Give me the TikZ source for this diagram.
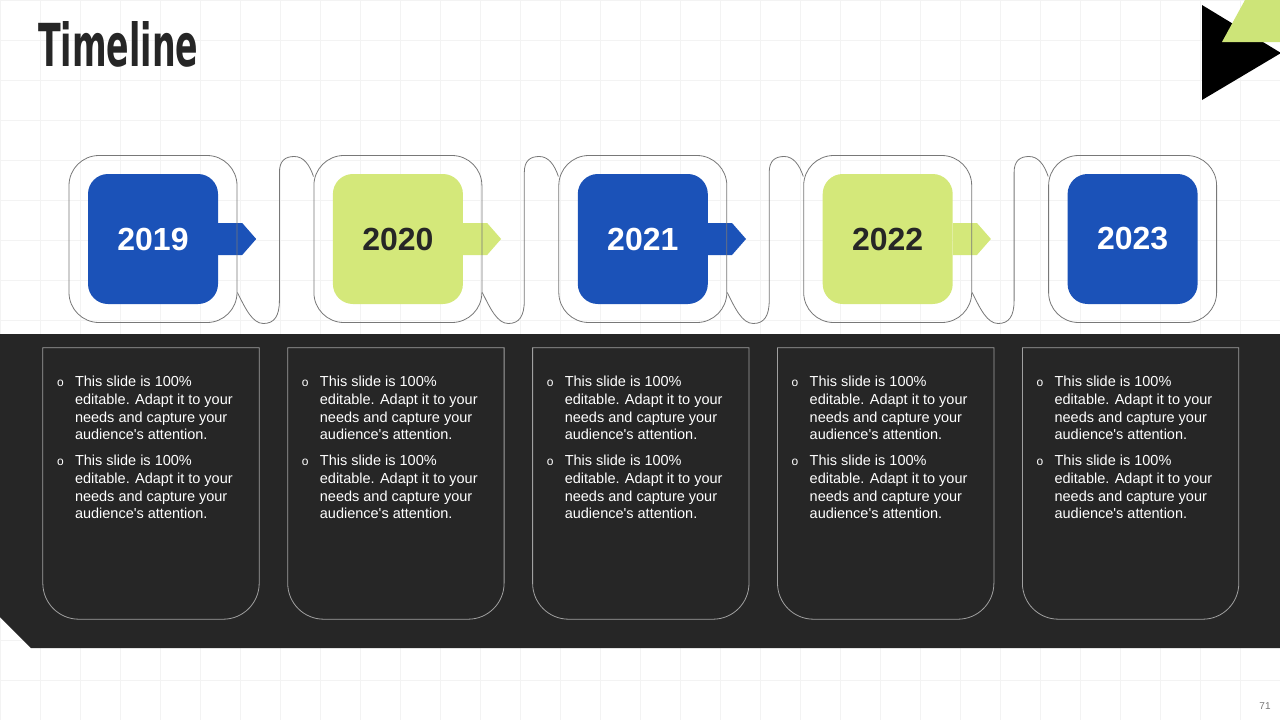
\documentclass[tikz,border=0pt]{standalone}
\usepackage{fontspec}
\setmainfont{Liberation Sans}
\newfontfamily\titlefont{DejaVu Sans Condensed Bold}
\usepackage{tikz}
\usetikzlibrary{positioning,calc}
\usepackage{xcolor}

\definecolor{yearblue}{RGB}{27,82,184}
\definecolor{yeargreen}{RGB}{212,232,122}
\definecolor{cornergreen}{RGB}{205,228,120}
\definecolor{slidedark}{RGB}{38,38,38}
\definecolor{gridgray}{RGB}{243,243,243}
\definecolor{framegray}{RGB}{120,120,120}
\definecolor{cardgray}{RGB}{160,160,160}

% wavy ribbon from one frame to the next
\newcommand{\ribbonlink}[2]{%
  \draw[ribbon] ([yshift=-53.5pt]#1.east)
    .. controls ([shift={(8,-69.5)}]#1.east) and ([shift={(15,-84.5)}]#1.east) .. ([shift={(26,-84.5)}]#1.east)
    .. controls ([shift={(37,-84.5)}]#1.east) and ([shift={(42,-77)}]#1.east) .. ([shift={(42,-61.5)}]#1.east)
    -- ([shift={(42,66.5)}]#1.east)
    .. controls ([shift={(42,78.5)}]#1.east) and ([shift={(48,82.5)}]#1.east) .. ([shift={(57,82.5)}]#1.east)
    .. controls ([shift={(66,82.5)}]#1.east) and ([shift={(-4,74.5)}]#2.west) .. ([yshift=62.5pt]#2.west);}

% card outline, round at the bottom only
\newcommand{\cardframe}[1]{%
  \draw[cardline] (#1.north west) -- ([yshift=36pt]#1.south west)
    arc[start angle=180, end angle=270, radius=36pt] -- ([xshift=-36pt]#1.south east)
    arc[start angle=270, end angle=360, radius=36pt] -- (#1.north east) -- cycle;}

\newcommand{\cardbullet}{{\fontsize{12}{12}\selectfont o}}
\newcommand{\cardbody}{%
  \begin{tabular}[t]{@{}p{18pt}@{}l@{}}
  \cardbullet & This slide is 100\% \\
  & editable. Adapt it to your \\
  & needs and capture your \\
  & audience\textquotesingle s attention. \\[8.6pt]
  \cardbullet & This slide is 100\% \\
  & editable. Adapt it to your \\
  & needs and capture your \\
  & audience\textquotesingle s attention.
  \end{tabular}}

\begin{document}
\begin{tikzpicture}[
    x=1pt, y=1pt,
    gridline/.style={draw=gridgray, line width=0.8pt},
    yearbox/.style={rectangle, rounded corners=20pt, minimum width=130pt, minimum height=130pt, inner sep=0pt, font=\fontsize{32}{32}\selectfont\bfseries},
    bluebox/.style={yearbox, fill=yearblue, text=white},
    greenbox/.style={yearbox, fill=yeargreen, text=slidedark},
    frame/.style={rectangle, draw=framegray, line width=0.8pt, rounded corners=30pt, minimum width=168pt, minimum height=167pt},
    ribbon/.style={draw=framegray, line width=0.8pt},
    card/.style={rectangle, minimum width=216pt, minimum height=271pt, inner sep=0pt},
    cardline/.style={draw=cardgray, line width=0.8pt},
    cardtext/.style={text=white, font=\fontsize{14.5}{17.6}\selectfont, inner sep=0pt, anchor=base west}
]
\useasboundingbox (0,0) rectangle (1280,-720);
\fill[white] (0,0) rectangle (1280,-720);
\draw[gridline] (0,-720) grid[step=40] (1280,0);

% title and corner
\node[anchor=base west, inner sep=0pt, text=slidedark] (title) at (38,-66) {\resizebox{160pt}{45pt}{\titlefont Timeline}};
\fill[black] (1202,-5) -- (1281,-53) -- (1202,-100) -- cycle;
\fill[cornergreen] (1222,-42) -- (1245,0) -- (1280,0) -- (1280,-42) -- cycle;

% year boxes
\node[bluebox] (y1) at (153,-239) {2019};
\node[greenbox, right=114.5pt of y1] (y2) {2020};
\node[bluebox, right=114.5pt of y2] (y3) {2021};
\node[greenbox, right=114.5pt of y3] (y4) {2022};
\node[bluebox, right=114.5pt of y4] (y5) {2023};

% arrow tabs
\fill[yearblue] ([yshift=16pt]y1.east) -- ++(24,0) -- ++(14,-16) -- ++(-14,-16) -- ++(-24,0) -- cycle;
\fill[yeargreen] ([yshift=16pt]y2.east) -- ++(24,0) -- ++(14,-16) -- ++(-14,-16) -- ++(-24,0) -- cycle;
\fill[yearblue] ([yshift=16pt]y3.east) -- ++(24,0) -- ++(14,-16) -- ++(-14,-16) -- ++(-24,0) -- cycle;
\fill[yeargreen] ([yshift=16pt]y4.east) -- ++(24,0) -- ++(14,-16) -- ++(-14,-16) -- ++(-24,0) -- cycle;

% frames round the years
\node[frame] (f1) at (y1) {};
\node[frame] (f2) at (y2) {};
\node[frame] (f3) at (y3) {};
\node[frame] (f4) at (y4) {};
\node[frame] (f5) at (y5) {};

\ribbonlink{f1}{f2}
\ribbonlink{f2}{f3}
\ribbonlink{f3}{f4}
\ribbonlink{f4}{f5}

% dark band
\fill[slidedark] (0,-334) -- (1280,-334) -- (1280,-648) -- (31,-648) -- (0,-617) -- cycle;

% cards
\node[card] (c1) at ($(y1)+(-2,-244.5)$) {};
\node[card] (c2) at ($(y2)+(-2,-244.5)$) {};
\node[card] (c3) at ($(y3)+(-2,-244.5)$) {};
\node[card] (c4) at ($(y4)+(-2,-244.5)$) {};
\node[card] (c5) at ($(y5)+(-2,-244.5)$) {};
\cardframe{c1}
\cardframe{c2}
\cardframe{c3}
\cardframe{c4}
\cardframe{c5}

\node[cardtext] (t1) at ([shift={(14,-39)}]c1.north west) {\cardbody};
\node[cardtext] (t2) at ([shift={(14,-39)}]c2.north west) {\cardbody};
\node[cardtext] (t3) at ([shift={(14,-39)}]c3.north west) {\cardbody};
\node[cardtext] (t4) at ([shift={(14,-39)}]c4.north west) {\cardbody};
\node[cardtext] (t5) at ([shift={(14,-39)}]c5.north west) {\cardbody};

% page number
\node[text=framegray, font=\fontsize{10}{10}\selectfont, inner sep=0pt] (page) at (1265,-706) {71};

\end{tikzpicture}
\end{document}
